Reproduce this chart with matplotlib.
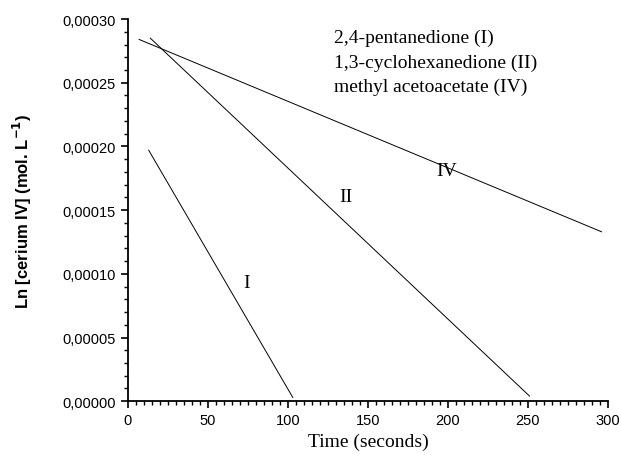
import matplotlib.pyplot as plt
from matplotlib.ticker import MultipleLocator, FuncFormatter

# lines (start / end points of each fitted line)
time_I = [13, 103]
conc_I = [0.000197, 0.000003]
time_II = [14, 251]
conc_II = [0.000285, 0.000004]
time_IV = [7, 296]
conc_IV = [0.000284, 0.000133]

labels = ["2,4-pentanedione (I)", "1,3-cyclohexanedione (II)", "methyl acetoacetate (IV)"]

fig = plt.figure(figsize=(6.21, 4.56), dpi=100)
ax = fig.add_axes([0.206, 0.118, 0.773, 0.838])

for t, c in [(time_I, conc_I), (time_II, conc_II), (time_IV, conc_IV)]:
    ax.plot(t, c, color='black', lw=0.7)

ax.set_xlim(0, 300)
ax.set_ylim(0, 0.0003)
ax.spines['top'].set_visible(False)
ax.spines['right'].set_visible(False)
ax.spines['left'].set_linewidth(1.3)
ax.spines['bottom'].set_linewidth(1.3)

ax.xaxis.set_major_locator(MultipleLocator(50))
ax.xaxis.set_minor_locator(MultipleLocator(5))
ax.yaxis.set_major_locator(MultipleLocator(0.00005))
ax.yaxis.set_minor_locator(MultipleLocator(0.00001))
ax.yaxis.set_major_formatter(FuncFormatter(lambda v, p: f"{v:.5f}".replace('.', ',')))
ax.tick_params(which='major', length=5, width=1.2, labelsize=10.5, direction='out')
ax.tick_params(which='minor', length=3, width=1.0, direction='out')
for lab in ax.get_xticklabels() + ax.get_yticklabels():
    lab.set_family('Liberation Sans')

ax.set_xlabel("Time (seconds)", family='Liberation Serif', fontsize=14)
ax.set_ylabel("Ln [cerium IV] (mol. L$^{\\mathbf{-1}}$)", family='Liberation Sans',
              fontsize=12, weight='bold')
ax.yaxis.set_label_coords(-0.196, 0.5)

# curve labels
ax.text(74, 0.000093, "I", family='Liberation Serif', fontsize=14, ha='center', va='center')
ax.text(136, 0.000161, "II", family='Liberation Serif', fontsize=14, ha='center', va='center')
ax.text(199, 0.000181, "IV", family='Liberation Serif', fontsize=14, ha='center', va='center')

# legend text
for i, s in enumerate(labels):
    ax.text(129, 0.000286 - i * 0.0000196, s, family='Liberation Serif', fontsize=14,
            ha='left', va='center')

plt.savefig('out.png', dpi=100)
